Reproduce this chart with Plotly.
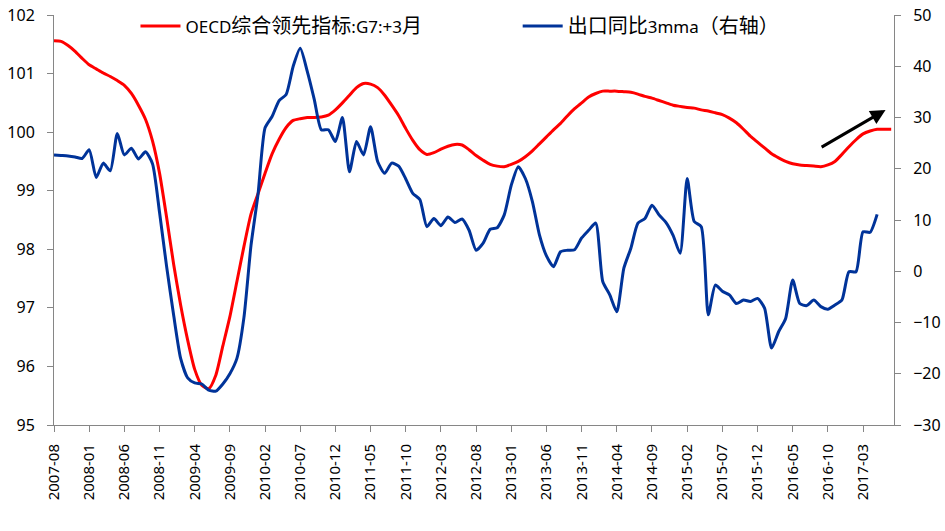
import plotly.graph_objects as go

# Month labels (2007-08 .. 2017-07)
months = []
y, m = 2007, 8
for _ in range(120):
    months.append(f"{y}-{m:02d}")
    m += 1
    if m > 12:
        m = 1
        y += 1

oecd_cli = [101.56, 101.55, 101.48, 101.38, 101.26, 101.15, 101.08, 101.01, 100.95, 100.88,
            100.80, 100.66, 100.46, 100.22, 99.85, 99.30, 98.55, 97.75, 97.05, 96.45,
            95.95, 95.68, 95.62, 95.85, 96.35, 96.85, 97.45, 98.05, 98.60, 98.95,
            99.30, 99.63, 99.88, 100.08, 100.20, 100.23, 100.25, 100.25, 100.26, 100.29,
            100.38, 100.50, 100.63, 100.76, 100.83, 100.82, 100.76, 100.63, 100.46, 100.28,
            100.06, 99.86, 99.70, 99.62, 99.65, 99.71, 99.76, 99.79, 99.78, 99.70,
            99.60, 99.52, 99.45, 99.42, 99.41, 99.45, 99.50, 99.58, 99.68, 99.80,
            99.92, 100.04, 100.15, 100.28, 100.40, 100.50, 100.60, 100.66, 100.70, 100.70,
            100.70, 100.69, 100.68, 100.65, 100.61, 100.58, 100.54, 100.50, 100.46, 100.44,
            100.42, 100.41, 100.38, 100.36, 100.33, 100.30, 100.24, 100.16, 100.05, 99.93,
            99.83, 99.73, 99.63, 99.56, 99.50, 99.46, 99.44, 99.43, 99.42, 99.41,
            99.44, 99.50, 99.62, 99.75, 99.87, 99.97, 100.02, 100.05, 100.05, 100.05]

export_yoy_3mma = [22.7, 22.6, 22.5, 22.3, 22.0, 23.7, 18.3, 21.1, 19.6, 26.9,
                   22.7, 24.0, 21.9, 23.3, 21.0, 11.5, 1.0, -8.5, -17.0, -20.8,
                   -21.8, -22.0, -23.2, -23.4, -22.0, -20.0, -17.0, -9.0, 5.0, 15.0,
                   28.0, 30.2, 33.3, 34.5, 40.0, 43.5, 39.0, 33.5, 27.6, 27.6,
                   25.3, 30.0, 19.4, 25.3, 22.7, 28.2, 21.4, 19.1, 21.1, 20.5,
                   18.0, 15.2, 14.0, 8.7, 10.3, 8.9, 10.6, 9.5, 10.2, 8.0,
                   4.1, 5.5, 8.2, 8.5, 11.0, 16.8, 20.4, 18.1, 13.6, 7.1,
                   3.0, 0.9, 3.8, 4.1, 4.2, 6.5, 8.0, 9.4, -2.0, -4.6,
                   -7.9, 0.6, 4.5, 9.4, 10.3, 12.9, 11.0, 9.5, 7.0, 3.5,
                   18.1, 9.7, 8.7, -8.5, -2.7, -3.9, -4.6, -6.3, -5.6, -5.9,
                   -5.3, -7.2, -15.0, -11.8, -9.2, -1.7, -6.3, -6.7, -5.6, -6.9,
                   -7.4, -6.6, -5.6, -0.1, -0.1, 7.7, 7.6, 11.1]

tick_idx = list(range(0, 116, 5))
tick_labels = [months[i] for i in tick_idx]

FONT = "Noto Sans, Noto Sans CJK SC, sans-serif"
AXIS_COLOR = "#868686"


def cjk(s):
    return f'<span style="font-size:20px">{s}</span>'


name_red = "OECD" + cjk("综合领先指标") + ":G7:+3" + cjk("月")
name_blue = cjk("出口同比") + "3mma" + cjk("（右轴）")

fig = go.Figure()
fig.add_trace(go.Scatter(
    x=list(range(len(oecd_cli))), y=oecd_cli, mode="lines",
    name=name_red,
    line=dict(color="#FF0000", width=3, shape="spline", smoothing=0.6),
    legend="legend", hoverinfo="skip"))
fig.add_trace(go.Scatter(
    x=list(range(len(export_yoy_3mma))), y=export_yoy_3mma, mode="lines",
    name=name_blue,
    line=dict(color="#003399", width=3, shape="spline", smoothing=0.6),
    yaxis="y2", legend="legend2", hoverinfo="skip"))

fig.add_annotation(x=118.2, y=100.38, ax=108.9, ay=99.73, xref="x", yref="y",
                   axref="x", ayref="y", showarrow=True, arrowhead=2,
                   arrowsize=1, arrowwidth=3, arrowcolor="#000000", text="")

fig.update_layout(
    width=945, height=531,
    margin=dict(l=54, r=51, t=15, b=106, autoexpand=False),
    paper_bgcolor="white", plot_bgcolor="white",
    font=dict(family=FONT, size=16, color="#000000"),
    showlegend=True,
    legend=dict(x=0.097, y=0.972, xanchor="left", yanchor="middle",
                bgcolor="rgba(0,0,0,0)", font=dict(size=17, color="#000000"),
                itemwidth=40),
    legend2=dict(x=0.552, y=0.972, xanchor="left", yanchor="middle",
                 bgcolor="rgba(0,0,0,0)", font=dict(size=17, color="#000000"),
                 itemwidth=40),
    xaxis=dict(range=[0, 119.4], tickmode="array", tickvals=tick_idx,
               ticktext=tick_labels, tickangle=-90, ticks="outside", ticklen=6,
               tickcolor=AXIS_COLOR, showline=True, linecolor=AXIS_COLOR,
               linewidth=1, showgrid=False, zeroline=False, ticklabelstandoff=6,
               automargin=False, tickfont=dict(size=15, family=FONT)),
    yaxis=dict(range=[95, 102], dtick=1, ticks="outside", ticklen=6,
               tickcolor=AXIS_COLOR, showline=True, linecolor=AXIS_COLOR,
               linewidth=1, showgrid=False, zeroline=False, ticklabelstandoff=9,
               automargin=False, tickfont=dict(size=16, family=FONT)),
    yaxis2=dict(range=[-30, 50], dtick=10, overlaying="y", side="right",
                ticks="outside", ticklen=6, tickcolor=AXIS_COLOR,
                showline=True, linecolor=AXIS_COLOR, linewidth=1,
                showgrid=False, zeroline=False, ticklabelstandoff=9,
                automargin=False, tickfont=dict(size=16, family=FONT)),
)

fig.write_html("out.html")
